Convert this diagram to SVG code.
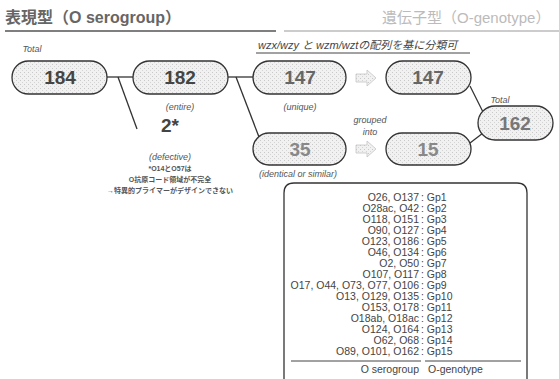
<svg xmlns="http://www.w3.org/2000/svg" width="559" height="379" viewBox="0 0 559 379">
<style>
.t{font-family:"Liberation Sans","Noto Sans CJK JP",sans-serif;}
.pill{fill:url(#dots);stroke:#333;stroke-width:1.3;}
.num{font-family:"Liberation Sans",sans-serif;font-weight:bold;font-size:19px;text-anchor:middle;}
.lbl{font-family:"Liberation Sans",sans-serif;font-style:italic;font-size:9px;fill:#555;text-anchor:middle;}
.con{stroke:#333;stroke-width:1.3;fill:none;}
.gl{font-family:"Liberation Sans",sans-serif;font-size:10.5px;fill:#444;}
.jp{font-family:"Liberation Sans","Noto Sans CJK JP",sans-serif;font-size:7px;font-weight:bold;fill:#555;text-anchor:middle;}
</style>
<defs>
<pattern id="dots" width="4" height="4" patternUnits="userSpaceOnUse">
<rect width="4" height="4" fill="#f1f1f1"/>
<rect x="0" y="0" width="1" height="1" fill="#c8c8c8"/>
<rect x="2" y="2" width="1" height="1" fill="#d4d4d4"/>
</pattern>
<path id="barrow" d="M0,-4 L11,-4 L11,-8 L20,0 L11,8 L11,4 L0,4 Z"/>
</defs>

<g id="titles">
<text class="t" x="5" y="23" font-size="16" fill="#666" font-weight="bold">表現型（O serogroup）</text>
<line x1="5" y1="31" x2="276" y2="31" stroke="#555" stroke-width="1.5"/>
<text class="t" x="382" y="23" font-size="15" fill="#bbb">遺伝子型（O-genotype）</text>
<line x1="284" y1="31" x2="559" y2="31" stroke="#bbb" stroke-width="1.5"/>
<text class="t" x="258" y="49" font-size="11" fill="#444" font-style="italic">wzx/wzy と wzm/wztの配列を基に分類可</text>
<line x1="256" y1="53" x2="470" y2="53" stroke="#444" stroke-width="1"/>
</g>

<g id="connectors">
<line class="con" x1="107" y1="77" x2="133" y2="77"/>
<line class="con" x1="118" y1="77" x2="137" y2="129"/>
<line class="con" x1="228" y1="77" x2="253" y2="77"/>
<line class="con" x1="236" y1="77" x2="259" y2="137"/>
<line class="con" x1="470" y1="86" x2="483" y2="112"/>
<line class="con" x1="470" y1="143" x2="483" y2="133"/>
<use href="#barrow" x="356" y="78" fill="url(#dots)" stroke="#c4c4c4" stroke-width="0.8"/>
<use href="#barrow" x="356" y="149" fill="url(#dots)" stroke="#c4c4c4" stroke-width="0.8"/>
</g>

<g id="n184">
<text class="lbl" x="32" y="52" font-size="10" fill="#333">Total</text>
<rect class="pill" x="12" y="61" width="95" height="33" rx="16.5"/>
<text class="num" x="60" y="84" fill="#444">184</text>
</g>
<g id="n182">
<rect class="pill" x="133" y="61" width="95" height="33" rx="16.5"/>
<text class="num" x="180" y="84" fill="#444">182</text>
<text class="lbl" x="180" y="110">(entire)</text>
</g>
<g id="n147a">
<rect class="pill" x="253" y="61" width="93" height="33" rx="16.5"/>
<text class="num" x="300" y="84" fill="#666">147</text>
<text class="lbl" x="300" y="110">(unique)</text>
</g>
<g id="n147b">
<rect class="pill" x="386" y="61" width="85" height="33" rx="16.5"/>
<text class="num" x="428" y="84" fill="#666">147</text>
</g>
<g id="n2">
<text class="num" x="170" y="132" font-size="14" fill="#444">2*</text>
<text class="lbl" x="170" y="160">(defective)</text>
<text class="jp" x="170" y="171">*O14とO57は</text>
<text class="jp" x="170" y="182">O抗原コード領域が不完全</text>
<text class="jp" x="170" y="193">→特異的プライマーがデザインできない</text>
</g>
<g id="n35">
<rect class="pill" x="253" y="133" width="93" height="32" rx="16"/>
<text class="num" x="300" y="156" fill="#888">35</text>
<text class="lbl" x="298" y="177">(identical or similar)</text>
</g>
<g id="n15">
<text class="lbl" x="370" y="123" font-size="9.5">grouped</text>
<text class="lbl" x="370" y="135" font-size="9.5">into</text>
<rect class="pill" x="386" y="133" width="85" height="32" rx="16"/>
<text class="num" x="428" y="156" fill="#888">15</text>
</g>
<g id="n162">
<text class="lbl" x="500" y="103" font-size="10">Total</text>
<rect class="pill" x="478" y="106" width="75" height="34" rx="17"/>
<text class="num" x="515" y="130" fill="#777">162</text>
</g>

<g id="table">
<path d="M284,379 L284,193 Q284,183 294,183 L517,183 Q527,183 527,193 L527,379" fill="#fff" stroke="#333" stroke-width="1.3"/>
<g class="gl" text-anchor="end">
<text x="419" y="201">O26, O137</text>
<text x="419" y="212">O28ac, O42</text>
<text x="419" y="223">O118, O151</text>
<text x="419" y="234">O90, O127</text>
<text x="419" y="245">O123, O186</text>
<text x="419" y="256">O46, O134</text>
<text x="419" y="267">O2, O50</text>
<text x="419" y="278">O107, O117</text>
<text x="419" y="289">O17, O44, O73, O77, O106</text>
<text x="419" y="300">O13, O129, O135</text>
<text x="419" y="311">O153, O178</text>
<text x="419" y="322">O18ab, O18ac</text>
<text x="419" y="333">O124, O164</text>
<text x="419" y="344">O62, O68</text>
<text x="419" y="355">O89, O101, O162</text>
</g>
<g class="gl" font-size="11.5">
<text x="421" y="201">: Gp1</text>
<text x="421" y="212">: Gp2</text>
<text x="421" y="223">: Gp3</text>
<text x="421" y="234">: Gp4</text>
<text x="421" y="245">: Gp5</text>
<text x="421" y="256">: Gp6</text>
<text x="421" y="267">: Gp7</text>
<text x="421" y="278">: Gp8</text>
<text x="421" y="289">: Gp9</text>
<text x="421" y="300">: Gp10</text>
<text x="421" y="311">: Gp11</text>
<text x="421" y="322">: Gp12</text>
<text x="421" y="333">: Gp13</text>
<text x="421" y="344">: Gp14</text>
<text x="421" y="355">: Gp15</text>
</g>
<line x1="291" y1="361" x2="421" y2="361" stroke="#444" stroke-width="1"/>
<line x1="425" y1="361" x2="521" y2="361" stroke="#444" stroke-width="1"/>
<text class="gl" x="419" y="373" text-anchor="end" font-size="10" fill="#888">O serogroup</text>
<text class="gl" x="428" y="373" font-size="10" fill="#ccc">O-genotype</text>
</g>
</svg>
